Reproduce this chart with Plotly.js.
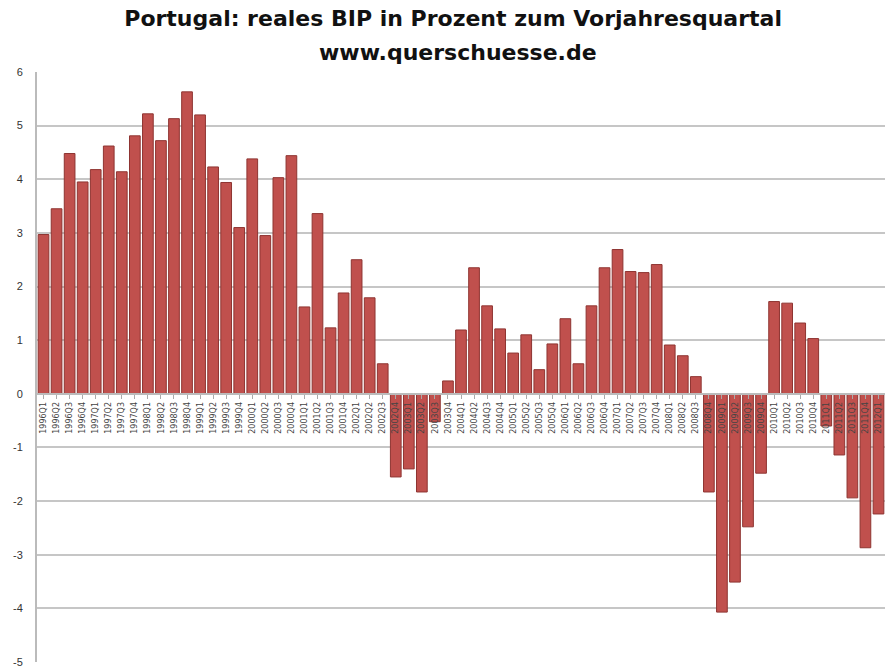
<!DOCTYPE html>
<html>
<head>
<meta charset="utf-8">
<script src="https://cdn.plot.ly/plotly-3.0.1.min.js"></script>
<style>html,body{margin:0;padding:0;background:#fff;}#chart{width:885px;height:672px;}</style>
</head>
<body>
<div id="chart"></div>
<script>
const quarters = [
  "1996Q1","1996Q2","1996Q3","1996Q4",
  "1997Q1","1997Q2","1997Q3","1997Q4",
  "1998Q1","1998Q2","1998Q3","1998Q4",
  "1999Q1","1999Q2","1999Q3","1999Q4",
  "2000Q1","2000Q2","2000Q3","2000Q4",
  "2001Q1","2001Q2","2001Q3","2001Q4",
  "2002Q1","2002Q2","2002Q3","2002Q4",
  "2003Q1","2003Q2","2003Q3","2003Q4",
  "2004Q1","2004Q2","2004Q3","2004Q4",
  "2005Q1","2005Q2","2005Q3","2005Q4",
  "2006Q1","2006Q2","2006Q3","2006Q4",
  "2007Q1","2007Q2","2007Q3","2007Q4",
  "2008Q1","2008Q2","2008Q3","2008Q4",
  "2009Q1","2009Q2","2009Q3","2009Q4",
  "2010Q1","2010Q2","2010Q3","2010Q4",
  "2011Q1","2011Q2","2011Q3","2011Q4",
  "2012Q1"
];
const gdpGrowth = [
  2.97, 3.45, 4.48, 3.95,
  4.18, 4.62, 4.14, 4.81,
  5.22, 4.72, 5.13, 5.63,
  5.20, 4.23, 3.94, 3.10,
  4.38, 2.95, 4.03, 4.44,
  1.62, 3.36, 1.23, 1.88,
  2.50, 1.79, 0.56, -1.55,
  -1.40, -1.83, -0.52, 0.24,
  1.19, 2.35, 1.64, 1.21,
  0.76, 1.10, 0.45, 0.93,
  1.40, 0.56, 1.64, 2.35,
  2.69, 2.28, 2.26, 2.41,
  0.91, 0.71, 0.32, -1.83,
  -4.07, -3.51, -2.48, -1.48,
  1.72, 1.69, 1.32, 1.03,
  -0.60, -1.14, -1.94, -2.87,
  -2.24
];
const yTickVals = [6, 5, 4, 3, 2, 1, 0, -1, -2, -3, -4, -5];
const yTickText = ["6", "5", "4", "3", "2", "1", "0", "-1", "-2", "-3", "-4", "-5"];
const titleLine1 = "Portugal: reales BIP in Prozent zum Vorjahresquartal";
const titleLine2 = "www.querschuesse.de";

const trace = {
  type: "bar",
  x: quarters,
  y: gdpGrowth,
  marker: { color: "#C0504D", line: { color: "#8E3431", width: 1 } },
  hoverinfo: "x+y"
};

const titleFont = { family: "DejaVu Sans, Liberation Sans, sans-serif", size: 22, color: "#111" };

const layout = {
  width: 885, height: 672,
  paper_bgcolor: "#ffffff", plot_bgcolor: "#ffffff",
  margin: { l: 37, r: 0, t: 72, b: 10 },
  showlegend: false,
  bargap: 0.18,
  title: {
    text: "<b>" + titleLine1 + "</b>",
    font: titleFont,
    x: 0.512, xanchor: "center", y: 0.973, yanchor: "middle"
  },
  annotations: [{
    text: "<b>" + titleLine2 + "</b>",
    xref: "paper", yref: "paper", x: 0.496, y: 1.0, yanchor: "middle", xanchor: "center",
    yshift: 20, showarrow: false,
    font: titleFont
  }],
  xaxis: {
    type: "category",
    anchor: "free",
    position: 5 / 11,
    tickangle: -90,
    tickfont: { family: "DejaVu Sans, sans-serif", size: 8, color: "#444" },
    ticks: "outside", ticklen: 4, tickcolor: "#AAAAAA",
    showline: true, linecolor: "#BBBBBB", linewidth: 2,
    showgrid: false,
    automargin: false,
    fixedrange: true
  },
  yaxis: {
    range: [-5, 6],
    tickvals: yTickVals,
    ticktext: yTickText,
    tickfont: { family: "Liberation Sans, Arial, sans-serif", size: 11, color: "#333" },
    showgrid: true, gridcolor: "#C6C6C6", gridwidth: 2,
    zeroline: false,
    showline: true, linecolor: "#BBBBBB", linewidth: 2,
    ticks: "", ticklabelstandoff: 10,
    automargin: false,
    fixedrange: true
  }
};

Plotly.newPlot("chart", [trace], layout, { displayModeBar: false, staticPlot: true });
</script>
</body>
</html>
